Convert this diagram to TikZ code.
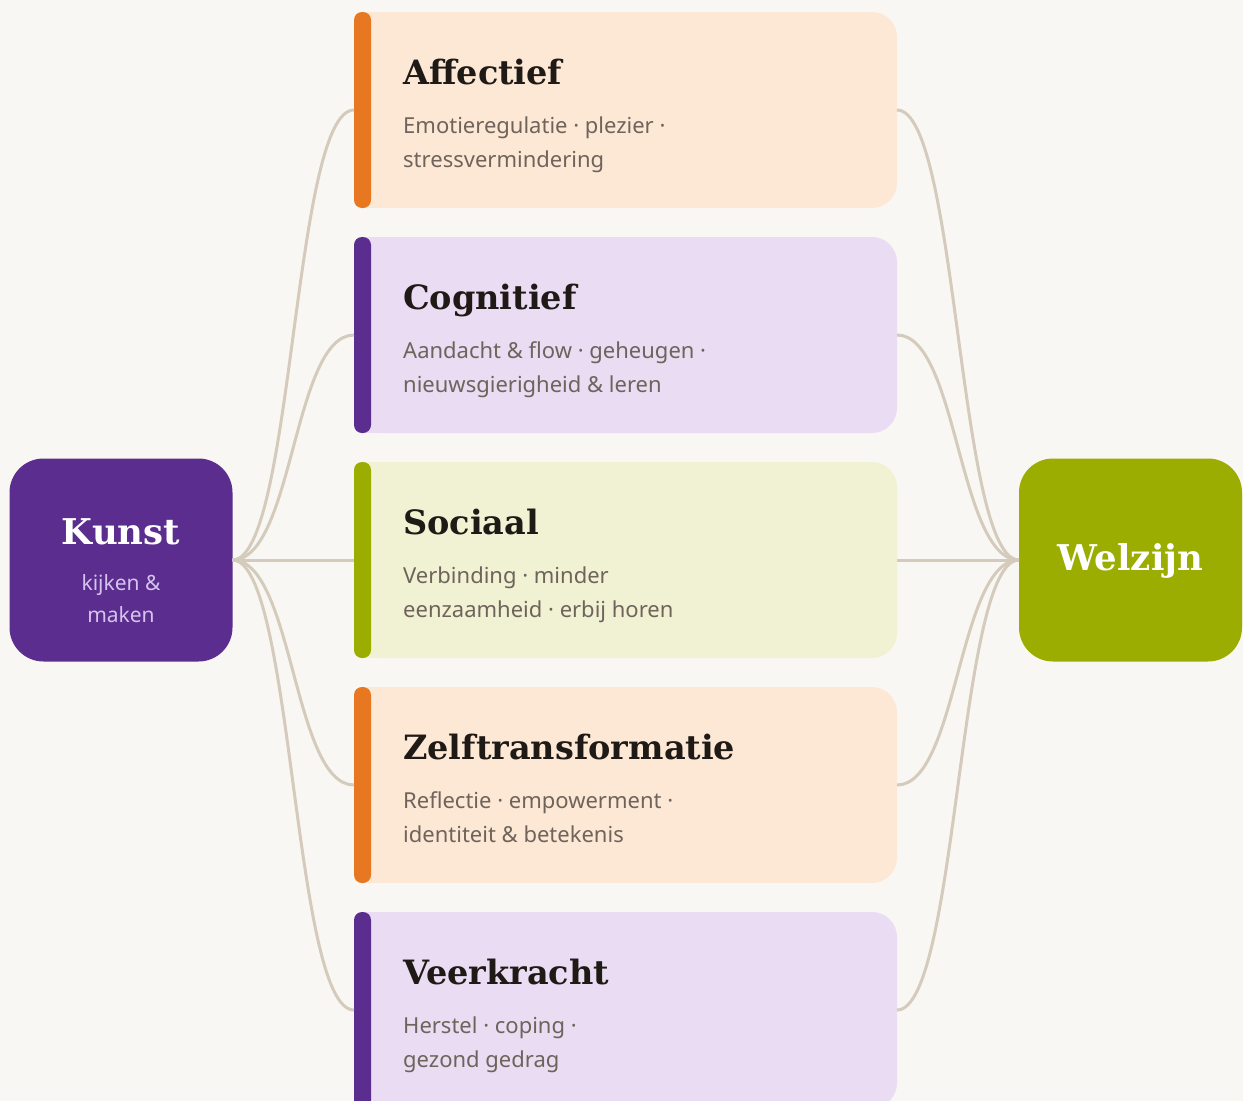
\documentclass[tikz,border=0pt]{standalone}
\usepackage{fontspec}
\usepackage{xcolor}
\usepackage{tikz}
\usetikzlibrary{positioning}
\setmainfont{Noto Sans}
\newfontfamily\headfont{DejaVu Serif}
\definecolor{paper}{RGB}{249,247,243}
\definecolor{linkc}{RGB}{212,203,189}
\definecolor{ink}{RGB}{31,26,22}
\definecolor{muted}{RGB}{111,99,91}
\definecolor{paars}{RGB}{91,45,142}
\definecolor{oranje}{RGB}{232,119,34}
\definecolor{groen}{RGB}{154,173,0}
\definecolor{oranjebg}{RGB}{253,232,213}
\definecolor{paarsbg}{RGB}{233,220,243}
\definecolor{groenbg}{RGB}{240,242,211}
\definecolor{lila}{RGB}{214,196,238}

\tikzset{
  card/.style={rectangle, rounded corners=25pt, minimum width=543pt,
    minimum height=196pt, inner sep=0pt, outer sep=0pt},
  hub/.style={rectangle, rounded corners=34pt, minimum width=223pt,
    minimum height=203pt, inner sep=0pt, outer sep=0pt},
  cardtitle/.style={anchor=base west, inner sep=0pt, text=ink,
    font=\headfont\bfseries\fontsize{33.5}{40}\selectfont},
  cardtext/.style={anchor=base west, inner sep=0pt, text=muted, align=left,
    font=\fontsize{22}{34}\selectfont},
  hubtitle/.style={anchor=base, inner sep=0pt, text=white,
    font=\headfont\bfseries\fontsize{35.5}{40}\selectfont},
  link/.style={draw=linkc, line width=3pt,
    to path={.. controls +(61,0) and +(-61,0) .. (\tikztotarget) \tikztonodes}}
}

\begin{document}
\begin{tikzpicture}[x=1pt, y=-1pt]
  \fill[paper] (0,0) rectangle (1243,1101);
  \useasboundingbox (0,0) rectangle (1243,1101);

  % hubs
  \node[hub, fill=paars] (kunst) at (121,560) {};
  \node[hub, fill=groen] (welzijn) at (1130.5,560) {};
  \node[hubtitle] (kunst-t) at (121,544) {Kunst};
  \node[anchor=base, inner sep=0pt, text=lila, align=center,
    font=\fontsize{21}{32}\selectfont] (kunst-d) at (121,622) {kijken \&\\maken};
  \node[hubtitle] (welzijn-t) at (1130.5,570) {Welzijn};

  % cards
  \node[card, fill=oranjebg, anchor=north west] (aff) at (354,12) {};
  \node[card, fill=paarsbg, below=29pt of aff] (cog) {};
  \node[card, fill=groenbg, below=29pt of cog] (soc) {};
  \node[card, fill=oranjebg, below=29pt of soc] (zelf) {};
  \node[card, fill=paarsbg, below=29pt of zelf] (veer) {};

  \foreach \n/\bg/\ac in {aff/oranjebg/oranje, cog/paarsbg/paars,
      soc/groenbg/groen, zelf/oranjebg/oranje, veer/paarsbg/paars} {
    \fill[\bg] ([shift={(8,0)}]\n.north west) rectangle ([shift={(30,0)}]\n.south west);
    \fill[\ac, rounded corners=8pt] (\n.north west) rectangle ([shift={(17,0)}]\n.south west);
  }

  \node[cardtitle] (aff-t) at ([shift={(49,72)}]aff.north west) {Affectief};
  \node[cardtext] (aff-d) at ([shift={(49,155)}]aff.north west)
    {Emotieregulatie · plezier ·\\stressvermindering};
  \node[cardtitle] (cog-t) at ([shift={(49,72)}]cog.north west) {Cognitief};
  \node[cardtext] (cog-d) at ([shift={(49,155)}]cog.north west)
    {Aandacht \& flow · geheugen ·\\nieuwsgierigheid \& leren};
  \node[cardtitle] (soc-t) at ([shift={(49,72)}]soc.north west) {Sociaal};
  \node[cardtext] (soc-d) at ([shift={(49,155)}]soc.north west)
    {Verbinding · minder\\eenzaamheid · erbij horen};
  \node[cardtitle] (zelf-t) at ([shift={(49,72)}]zelf.north west) {Zelftransformatie};
  \node[cardtext] (zelf-d) at ([shift={(49,155)}]zelf.north west)
    {Reflectie · empowerment ·\\identiteit \& betekenis};
  \node[cardtitle] (veer-t) at ([shift={(49,72)}]veer.north west) {Veerkracht};
  \node[cardtext] (veer-d) at ([shift={(49,155)}]veer.north west)
    {Herstel · coping ·\\gezond gedrag};

  % links
  \path[link]
    (kunst.east) edge (aff.west)
    (kunst.east) edge (cog.west)
    (kunst.east) edge (soc.west)
    (kunst.east) edge (zelf.west)
    (kunst.east) edge (veer.west)
    (aff.east) edge (welzijn.west)
    (cog.east) edge (welzijn.west)
    (soc.east) edge (welzijn.west)
    (zelf.east) edge (welzijn.west)
    (veer.east) edge (welzijn.west);
\end{tikzpicture}
\end{document}
